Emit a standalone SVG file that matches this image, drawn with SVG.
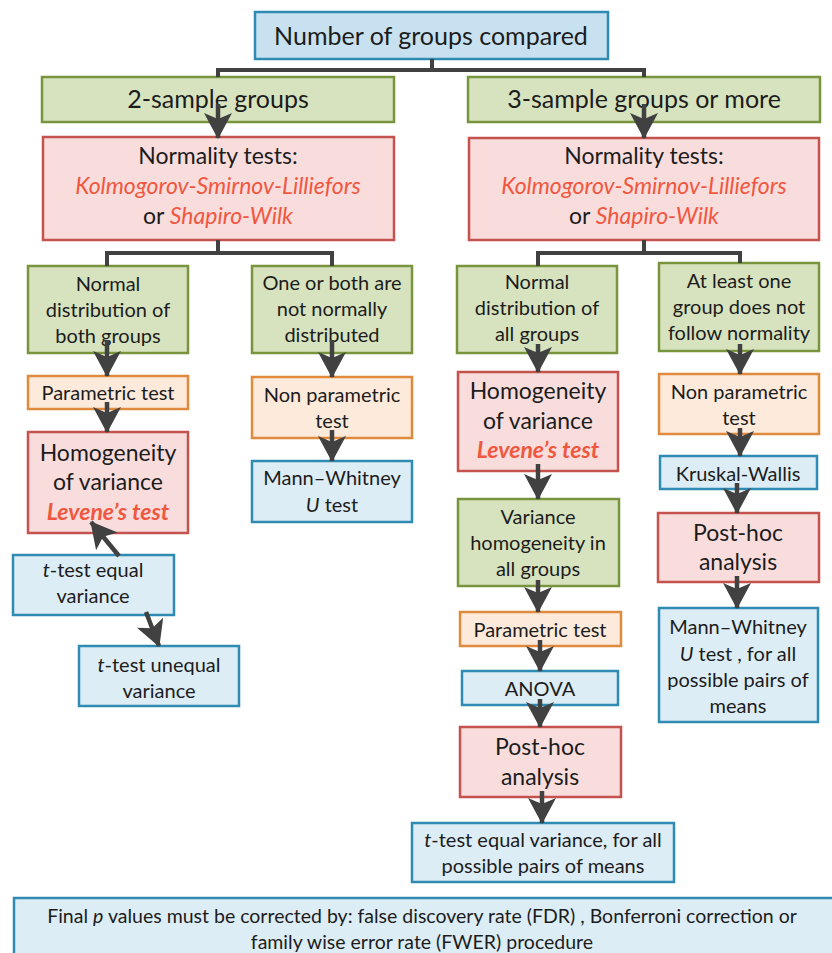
<svg xmlns="http://www.w3.org/2000/svg" width="832" height="953" viewBox="0 0 832 953">
<defs>
<style>
text{font-family:Lato,"Open Sans","Liberation Sans",sans-serif;fill:#1c1c1c;text-anchor:middle}
.blue{fill:#dcedf6;stroke:#2f8bb2;stroke-width:2.5}
.top{fill:#c8e1f1;stroke:#2f8bb2;stroke-width:2.5}
.green{fill:#d7e3bf;stroke:#78953d;stroke-width:2.5}
.red{fill:#f9dddc;stroke:#c4524d;stroke-width:2.5}
.orange{fill:#fdeadb;stroke:#e08a3e;stroke-width:2.5}
.s25{font-size:25px}
.s23{font-size:23px}
.s20{font-size:20px}
.s19{font-size:19.5px}
.em{fill:#f0573f;font-style:italic}
.emb{fill:#f0573f;font-style:italic;font-weight:bold}
.conn{fill:none;stroke:#414141;stroke-width:4}
.arr{fill:none;stroke:#414141;stroke-width:4.5;marker-end:url(#ah)}
</style>
<marker id="ah" markerUnits="userSpaceOnUse" viewBox="0 0 26 28" markerWidth="26" markerHeight="28" refX="25" refY="14" orient="auto">
<path d="M0,0 L26,14 L0,28 L6,14 Z" fill="#414141"/>
</marker>
</defs>

<g id="n_top"><rect class="top" x="255" y="12" width="353" height="47"/><text class="s25" x="431" y="45">Number of groups compared</text></g>
<g id="n_two"><rect class="green" x="42" y="77" width="352" height="45"/><text class="s25" x="218" y="108">2-sample groups</text></g>
<g id="n_three"><rect class="green" x="468" y="77" width="352" height="45"/><text class="s25" x="644" y="108">3-sample groups or more</text></g>

<g id="n_norm_l"><rect class="red" x="43" y="137" width="351" height="103"/>
<text class="s23" x="218" y="164">Normality tests:</text>
<text class="s23 em" x="218" y="194">Kolmogorov-Smirnov-Lilliefors</text>
<text class="s23" x="218" y="224">or <tspan class="em">Shapiro-Wilk</tspan></text></g>
<g id="n_norm_r"><rect class="red" x="469" y="138" width="350" height="102"/>
<text class="s23" x="644" y="164">Normality tests:</text>
<text class="s23 em" x="644" y="194">Kolmogorov-Smirnov-Lilliefors</text>
<text class="s23" x="644" y="224">or <tspan class="em">Shapiro-Wilk</tspan></text></g>

<g id="n_normal_both"><rect class="green" x="28" y="266" width="160" height="87"/>
<text class="s20" x="108" y="291">Normal</text><text class="s20" x="108" y="317">distribution  of</text><text class="s20" x="108" y="343">both groups</text></g>
<g id="n_notnormal"><rect class="green" x="252" y="266" width="160" height="87"/>
<text class="s20" x="332" y="290">One or both are</text><text class="s20" x="332" y="316">not normally</text><text class="s20" x="332" y="342">distributed</text></g>
<g id="n_normal_all"><rect class="green" x="457" y="266" width="160" height="87"/>
<text class="s20" x="537" y="289">Normal</text><text class="s20" x="537" y="315">distribution  of</text><text class="s20" x="537" y="341">all groups</text></g>
<g id="n_atleast"><rect class="green" x="659" y="263" width="160" height="88"/>
<text class="s20" x="739" y="288">At least one</text><text class="s20" x="739" y="314">group does not</text><text class="s20" x="739" y="340">follow normality</text></g>

<g id="n_param_l"><rect class="orange" x="28" y="376" width="160" height="33"/><text class="s20" x="108" y="400">Parametric test</text></g>
<g id="n_nonparam_l"><rect class="orange" x="252" y="377" width="160" height="61"/>
<text class="s20" x="332" y="402">Non parametric</text><text class="s20" x="332" y="428">test</text></g>
<g id="n_homog_l"><rect class="red" x="28" y="432" width="160" height="101"/>
<text class="s23" x="108" y="461">Homogeneity</text><text class="s23" x="108" y="490">of variance</text><text class="s23 emb" x="108" y="520">Levene’s test</text></g>
<g id="n_mw_l"><rect class="blue" x="252" y="461" width="160" height="61"/>
<text class="s20" x="332" y="485">Mann–Whitney</text><text class="s20" x="332" y="512"><tspan font-style="italic">U</tspan> test</text></g>
<g id="n_tequal"><rect class="blue" x="13" y="555" width="161" height="60"/>
<text class="s20" x="93" y="577"><tspan font-style="italic">t</tspan>-test equal</text><text class="s20" x="93" y="603">variance</text></g>
<g id="n_tunequal"><rect class="blue" x="79" y="646" width="160" height="60"/>
<text class="s20" x="159" y="672"><tspan font-style="italic">t</tspan>-test unequal</text><text class="s20" x="159" y="698">variance</text></g>

<g id="n_homog_r"><rect class="red" x="458" y="372" width="160" height="99"/>
<text class="s23" x="538" y="399">Homogeneity</text><text class="s23" x="538" y="429">of variance</text><text class="s23 emb" x="538" y="458">Levene’s test</text></g>
<g id="n_nonparam_r"><rect class="orange" x="659" y="374" width="160" height="60"/>
<text class="s20" x="739" y="399">Non parametric</text><text class="s20" x="739" y="425">test</text></g>
<g id="n_kruskal"><rect class="blue" x="660" y="456" width="157" height="33"/><text class="s20" x="738" y="481">Kruskal-Wallis</text></g>
<g id="n_posthoc_r"><rect class="red" x="658" y="513" width="161" height="69"/>
<text class="s23" x="738" y="541">Post-hoc</text><text class="s23" x="738" y="570">analysis</text></g>
<g id="n_mw_r"><rect class="blue" x="659" y="608" width="159" height="114"/>
<text class="s20" x="738" y="634">Mann–Whitney</text><text class="s20" x="738" y="661"><tspan font-style="italic">U</tspan> test , for all</text><text class="s20" x="738" y="687">possible  pairs of</text><text class="s20" x="738" y="713">means</text></g>
<g id="n_varhom"><rect class="green" x="458" y="499" width="161" height="87"/>
<text class="s20" x="538" y="524">Variance</text><text class="s20" x="538" y="550">homogeneity in</text><text class="s20" x="538" y="576">all groups</text></g>
<g id="n_param_r"><rect class="orange" x="460" y="612" width="161" height="34"/><text class="s20" x="540" y="637">Parametric test</text></g>
<g id="n_anova"><rect class="blue" x="462" y="671" width="156" height="34"/><text class="s20" x="540" y="696">ANOVA</text></g>
<g id="n_posthoc_b"><rect class="red" x="460" y="727" width="161" height="70"/>
<text class="s23" x="540" y="755">Post-hoc</text><text class="s23" x="540" y="785">analysis</text></g>
<g id="n_tall"><rect class="blue" x="412" y="823" width="262" height="59"/>
<text class="s20" x="543" y="847"><tspan font-style="italic">t</tspan>-test equal variance, for all</text><text class="s20" x="543" y="873">possible pairs of means</text></g>
<g id="n_final"><rect class="blue" x="14" y="898" width="830" height="70"/>
<text class="s19" x="422" y="923">Final <tspan font-style="italic">p</tspan> values must be corrected by: false discovery rate (FDR) , Bonferroni correction or</text>
<text class="s19" x="422" y="949">family wise error rate (FWER) procedure</text></g>

<g id="connectors">
<path class="conn" d="M432,59 V70 M216,70 H646 M218,68 V77 M644,68 V77"/>
<path class="conn" d="M218,240 V253 M105,253 H334 M107,251 V266 M332,251 V266"/>
<path class="conn" d="M644,240 V253 M536,253 H742 M538,251 V266 M740,251 V263"/>
<line class="arr" x1="218" y1="104" x2="218" y2="138"/>
<line class="arr" x1="644" y1="104" x2="644" y2="138"/>
<line class="arr" x1="107" y1="340" x2="107" y2="376"/>
<line class="arr" x1="332" y1="340" x2="332" y2="377"/>
<line class="arr" x1="538" y1="344" x2="538" y2="372"/>
<line class="arr" x1="740" y1="344" x2="740" y2="374"/>
<line class="arr" x1="107" y1="402" x2="107" y2="432"/>
<line class="arr" x1="332" y1="430" x2="332" y2="461"/>
<line class="arr" x1="119" y1="556" x2="91" y2="522"/>
<line class="arr" x1="146" y1="612" x2="159" y2="646"/>
<line class="arr" x1="538" y1="464" x2="538" y2="499"/>
<line class="arr" x1="740" y1="428" x2="740" y2="456"/>
<line class="arr" x1="737" y1="483" x2="737" y2="513"/>
<line class="arr" x1="737" y1="576" x2="737" y2="608"/>
<line class="arr" x1="538" y1="580" x2="538" y2="612"/>
<line class="arr" x1="540" y1="640" x2="540" y2="671"/>
<line class="arr" x1="540" y1="699" x2="540" y2="727"/>
<line class="arr" x1="542" y1="791" x2="542" y2="823"/>
</g>
</svg>
